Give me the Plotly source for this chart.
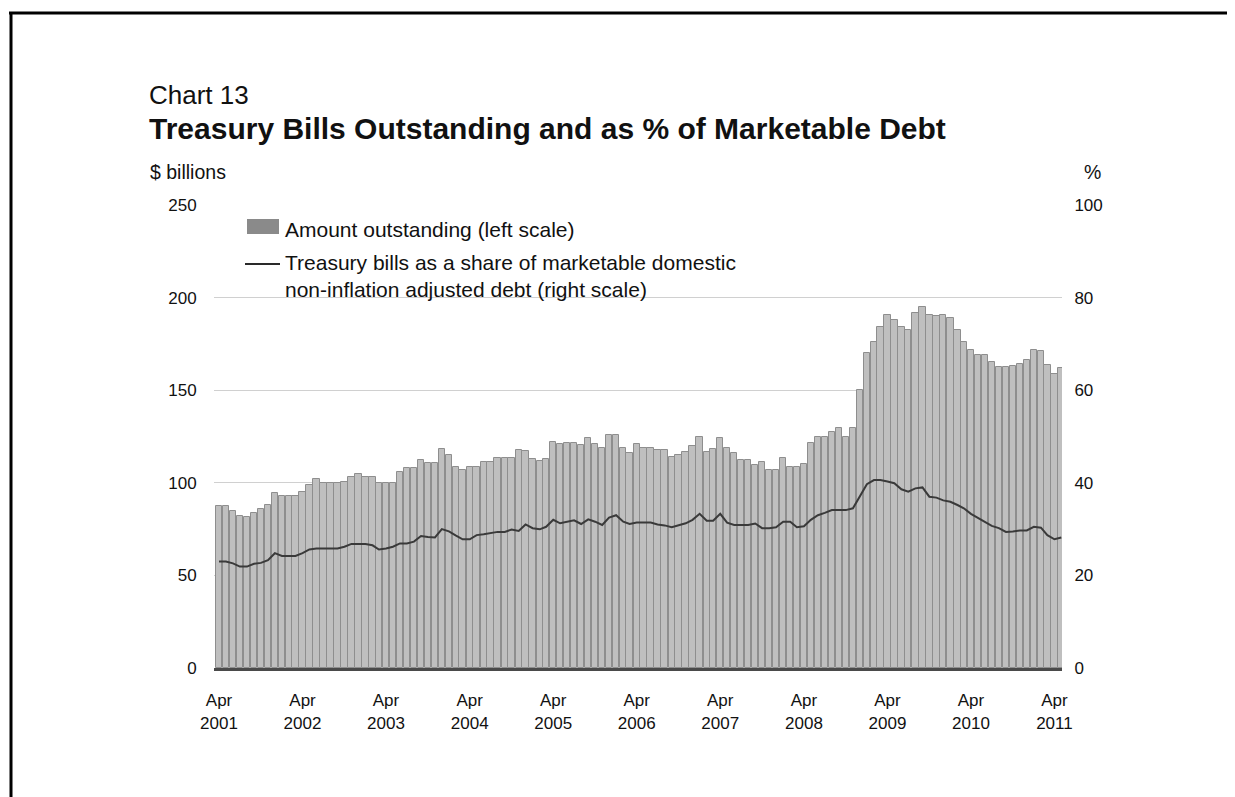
import plotly.graph_objects as go
import pandas as pd

# ---- data (monthly readings, Apr 2001 .. May 2011) ----
amount_bn = [87.5, 87.5, 85, 82, 81.7, 83.7, 86, 88, 94.7, 93, 93, 93,
             95, 99, 101.9, 100, 100, 100, 100.5, 103.3, 105, 103, 103, 100,
             99.7, 100, 106, 107.8, 107.8, 112.3, 110.5, 110.5, 118.1, 115, 108.7, 106.9,
             108.7, 108.7, 111.4, 111.4, 113.2, 113.2, 113.2, 117.7, 117, 113, 112, 113,
             122, 121, 121.7, 121.7, 120.4, 124, 121, 118.6, 125.8, 125.8, 118.6, 116,
             121, 118.6, 118.6, 117.7, 117.7, 114.1, 115, 116.8, 120, 124.9, 116.8, 118,
             124, 118.6, 115.9, 112.3, 112.3, 109.6, 111.4, 106.9, 106.9, 113.2, 108.7, 108.4,
             110, 121.3, 124.9, 124.9, 127.6, 129.4, 124.9, 129.4, 150, 169.9, 176.2, 184.3,
             190.6, 188, 184, 182.5, 191.5, 195, 190.6, 190, 190.5, 188.8, 182.5, 176.2,
             171.7, 169, 169, 165.4, 162.4, 162.4, 163, 164, 166.3, 171.7, 171, 163.6,
             159, 161.8]

share_pct = [23.0, 23.0, 22.6, 21.9, 21.9, 22.5, 22.7, 23.3, 24.8, 24.2, 24.2, 24.2,
             24.8, 25.6, 25.8, 25.8, 25.8, 25.8, 26.2, 26.8, 26.8, 26.8, 26.5, 25.6,
             25.8, 26.2, 26.9, 26.9, 27.3, 28.5, 28.3, 28.2, 30.0, 29.5, 28.6, 27.8,
             27.8, 28.7, 28.9, 29.2, 29.4, 29.4, 29.9, 29.6, 31.0, 30.2, 29.95, 30.5,
             32.0, 31.25, 31.5, 31.9, 31.1, 32.1, 31.6, 30.9, 32.5, 33.0, 31.6, 31.1,
             31.4, 31.4, 31.4, 31.0, 30.8, 30.4, 30.8, 31.25, 32.0, 33.3, 31.8, 31.8,
             33.3, 31.4, 30.9, 30.9, 30.9, 31.2, 30.2, 30.2, 30.4, 31.6, 31.6, 30.4,
             30.6, 32.0, 33.0, 33.5, 34.1, 34.1, 34.1, 34.5, 37.0, 39.7, 40.6, 40.6,
             40.3, 39.9, 38.6, 38.1, 38.8, 39.0, 37.0, 36.8, 36.2, 35.9, 35.2, 34.5,
             33.3, 32.5, 31.6, 30.7, 30.2, 29.4, 29.5, 29.7, 29.7, 30.5, 30.3, 28.7,
             27.8, 28.2]

dates = pd.date_range("2001-04-01", periods=len(amount_bn), freq="MS")
tick_years = list(range(2001, 2012))
tick_vals = [f"{y}-04-01" for y in tick_years]
tick_text = [f"Apr<br>{y}" for y in tick_years]
left_ticks = [0, 50, 100, 150, 200, 250]
right_ticks = [0, 20, 40, 60, 80, 100]

# ---- layout geometry ----
# The page body has an 8px margin, so figure pixel = page pixel - 8.
OFF = 8
W, H = 1235 - OFF, 797 - OFF
PL, PR, PT, PB = 214, 1062, 205, 668          # plot area in page pixels
L, R, T, B = PL - OFF, W - (PR - OFF), PT - OFF, H - (PB - OFF)
PW, PH = PR - PL, PB - PT
FONT = "Liberation Sans, Arial, Helvetica, sans-serif"


def px(x):  # page x pixel -> paper
    return (x - PL) / PW


def py(y):  # page y pixel -> paper
    return (PB - y) / PH


fig = go.Figure()
fig.add_trace(go.Bar(
    x=dates, y=amount_bn, name="Amount outstanding (left scale)",
    marker=dict(color="#bfbfbf", line=dict(color="#8e8e8e", width=1)),
    yaxis="y", showlegend=False,
))
fig.add_trace(go.Scatter(
    x=dates, y=share_pct, mode="lines",
    name="Treasury bills as a share of marketable domestic non-inflation adjusted debt (right scale)",
    line=dict(color="#3a3a3a", width=2), yaxis="y2", showlegend=False,
))

shapes = [
    # page frame
    dict(type="line", xref="paper", yref="paper", x0=px(9), x1=px(1235), y0=py(13), y1=py(13),
         line=dict(color="black", width=3)),
    dict(type="line", xref="paper", yref="paper", x0=px(11), x1=px(11), y0=py(12), y1=py(800),
         line=dict(color="black", width=3)),
    dict(type="line", xref="paper", yref="paper", x0=px(1232), x1=px(1232), y0=py(12), y1=py(800),
         line=dict(color="black", width=3)),
    # legend keys
    dict(type="rect", xref="paper", yref="paper", x0=px(247), x1=px(279), y0=py(234), y1=py(219),
         fillcolor="#8a8a8a", line=dict(width=0)),
    dict(type="line", xref="paper", yref="paper", x0=px(245), x1=px(280), y0=py(264), y1=py(264),
         line=dict(color="#2a2a2a", width=2)),
]


def text(s, x, y, size, anchor="left"):
    return dict(text=s, x=px(x), y=py(y), xref="paper", yref="paper", xanchor=anchor,
                yanchor="middle", align="left", showarrow=False,
                font=dict(size=size, color="#111", family=FONT))


annotations = [
    text("Chart 13", 147, 95, 26),
    text("<b>Treasury Bills Outstanding and as % of Marketable Debt</b>", 147, 128, 30),
    text("$ billions", 148, 172, 19.5),
    text("%", 1092, 172, 19.5, "center"),
    text("Amount outstanding (left scale)", 283, 229, 21),
    text("Treasury bills as a share of marketable domestic<br>non-inflation adjusted debt (right scale)",
         283, 276, 21),
]

fig.update_layout(
    width=W, height=H,
    margin=dict(l=L, r=R, t=T, b=B, pad=0),
    paper_bgcolor="white", plot_bgcolor="white",
    bargap=0,
    showlegend=False,
    font=dict(family=FONT, size=17, color="#111"),
    xaxis=dict(
        type="date", range=["2001-03-10", "2011-05-04"],
        tickmode="array", tickvals=tick_vals, ticktext=tick_text,
        ticks="outside", ticklen=15, tickcolor="rgba(0,0,0,0)",
        showgrid=False, zeroline=False,
        showline=True, linecolor="#4a4a4a", linewidth=3,
        tickfont=dict(size=17, family=FONT, color="#111"),
    ),
    yaxis=dict(
        range=[0, 250], tickmode="array", tickvals=left_ticks,
        showgrid=True, gridcolor="#d0d0d0", gridwidth=1, zeroline=False,
        ticks="outside", ticklen=13, tickcolor="rgba(0,0,0,0)",
        tickfont=dict(size=17, family=FONT, color="#111"),
    ),
    yaxis2=dict(
        range=[0, 100], tickmode="array", tickvals=right_ticks,
        overlaying="y", side="right", showgrid=False, zeroline=False,
        ticks="outside", ticklen=8, tickcolor="rgba(0,0,0,0)",
        tickfont=dict(size=17, family=FONT, color="#111"),
    ),
    shapes=shapes,
    annotations=annotations,
)

fig.write_html("out.html")
